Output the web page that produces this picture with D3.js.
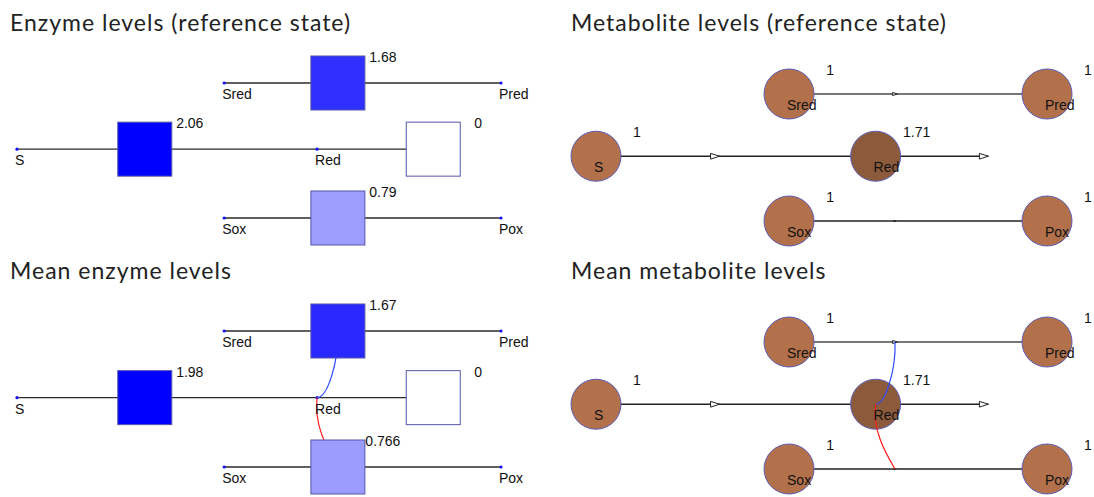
<!DOCTYPE html>
<html><head><meta charset="utf-8">
<script src="https://cdn.jsdelivr.net/npm/d3@7"></script>
<style>
html,body{margin:0;padding:0;background:#fff;}
svg{display:block;}
</style></head>
<body>
<svg id="chart" width="1094" height="497"></svg>
<script>
// ---------- data ----------
const panelTitles = ["Enzyme levels (reference state)", "Metabolite levels (reference state)",
                     "Mean enzyme levels", "Mean metabolite levels"];
const metabolites = ["S", "Sred", "Red", "Pred", "Sox", "Pox"];
const metaboliteRef  = [1, 1, 1.71, 1, 1, 1];
const metaboliteMean = [1, 1, 1.71, 1, 1, 1];
const reactions = ["R1", "R2", "R3", "R4"];
const reactionSubstrate = ["S", "Sred", "Red", "Sox"];
const reactionProduct   = ["Red", "Pred", null, "Pox"];
const enzymeRef  = [2.06, 1.68, 0, 0.79];
const enzymeMean = [1.98, 1.67, 0, 0.766];
const enzymeRefLabels  = ["2.06", "1.68", "0", "0.79"];
const enzymeMeanLabels = ["1.98", "1.67", "0", "0.766"];
const fluxes = [1, 0.4, 1, 0.05];
const regulationFrom  = ["R2", "Red"];
const regulationTo    = ["Red", "R4"];
const regulationSign  = ["+", "-"];

// ---------- layout (abstract network coordinates) ----------
const nodePos = {S:[0,0.49], Sred:[0.428,0], Red:[0.62,0.49], Pred:[1,0], Sox:[0.428,1], Pox:[1,1],
                 R1:[0.264,0.49], R2:[0.663,0], R3:[0.86,0.49], R4:[0.663,1]};

const svg = d3.select("#chart");
const titleFont = "Lato, 'Open Sans', sans-serif";
const labelFont = "'Liberation Sans', Arial, sans-serif";

const panels = [
  {kind:"enzyme", title:panelTitles[0], tx:10, ty:31, xr:[17,501], yr:[83,218], values:enzymeRef, labels:enzymeRefLabels, reg:false},
  {kind:"metab",  title:panelTitles[1], tx:571, ty:31, xr:[596,1047], yr:[94,221], values:metaboliteRef, reg:false},
  {kind:"enzyme", title:panelTitles[2], tx:10, ty:279, xr:[17,501], yr:[331,467], values:enzymeMean, labels:enzymeMeanLabels, reg:true},
  {kind:"metab",  title:panelTitles[3], tx:571, ty:279, xr:[596,1047], yr:[342,469], values:metaboliteMean, reg:true}
];

function regPath(p0, p1, sign){
  const dx = p1[0]-p0[0], dy = p1[1]-p0[1];
  const path = d3.path();
  path.moveTo(p0[0], p0[1]);
  if (sign === "+") {
    path.bezierCurveTo(p0[0]+1, p0[1]+0.45*dy, p1[0]-0.5*dx, p1[1], p1[0], p1[1]);
  } else {
    path.bezierCurveTo(p0[0]-3, p0[1]+0.38*dy, p1[0]-0.6*dx, p1[1]-0.3*dy, p1[0], p1[1]);
  }
  return path.toString();
}

panels.forEach(P => {
  const g = svg.append("g");
  const x = d3.scaleLinear().domain([0,1]).range(P.xr);
  const y = d3.scaleLinear().domain([0,1]).range(P.yr);
  const pos = k => [x(nodePos[k][0]), y(nodePos[k][1])];

  g.append("text").attr("x", P.tx).attr("y", P.ty)
    .attr("font-family", titleFont).attr("font-size", 23).attr("font-weight", 400)
    .attr("letter-spacing", "1px").attr("fill", "#222")
    .text(P.title);

  const rx = reactions.map((r,i) => ({r, i, s:reactionSubstrate[i], p:reactionProduct[i]}));

  if (P.kind === "enzyme") {
    rx.forEach(d => {
      const a = pos(d.s), b = d.p ? pos(d.p) : pos(d.r);
      g.append("line").attr("x1", a[0]).attr("y1", a[1]).attr("x2", b[0]).attr("y2", b[1])
        .attr("stroke", "#2b2b2b").attr("stroke-width", 1.4);
    });
    g.selectAll("circle.dot").data(metabolites).join("circle")
      .attr("cx", d => pos(d)[0]).attr("cy", d => pos(d)[1]).attr("r", 1.6).attr("fill", "#1010ff");
    if (P.reg) regulationFrom.forEach((f,i) => {
      g.append("path").attr("d", regPath(pos(f), pos(regulationTo[i]), regulationSign[i]))
        .attr("fill", "none").attr("stroke", regulationSign[i] === "+" ? "#2a4cff" : "#ff1a1a").attr("stroke-width", 1.2);
    });
    const color = d3.scaleLinear().domain([0, d3.max(P.values)]).range(["#ffffff", "#0000ff"]);
    const half = 27;
    rx.forEach(d => {
      const c = pos(d.r);
      g.append("rect").attr("x", c[0]-half).attr("y", c[1]-half).attr("width", 2*half).attr("height", 2*half)
        .attr("fill", color(P.values[d.i])).attr("stroke", "#5656a8").attr("stroke-width", 1);
      g.append("text").attr("x", c[0]+45).attr("y", c[1]-21).attr("text-anchor", "middle")
        .attr("font-family", labelFont).attr("font-size", 14).attr("fill", "#111")
        .text(P.labels[d.i]);
    });
    metabolites.forEach(m => {
      const c = pos(m);
      g.append("text").attr("x", c[0]-2).attr("y", c[1]+16)
        .attr("font-family", labelFont).attr("font-size", 14).attr("fill", "#111").text(m);
    });
  } else {
    const arrowLen = d3.scaleLinear().domain([0,1]).range([2,9]);
    rx.forEach(d => {
      const a = pos(d.s), r = pos(d.r);
      const L = arrowLen(fluxes[d.i]);
      const b = d.p ? pos(d.p) : [r[0]+L/2, r[1]];
      g.append("line").attr("x1", a[0]).attr("y1", a[1]).attr("x2", b[0]).attr("y2", b[1])
        .attr("stroke", d.i === 1 ? "#4a4a4a" : "#222").attr("stroke-width", 1.3);
      const h = L*0.32;
      g.append("path")
        .attr("d", `M${r[0]-L/2},${r[1]-h}L${r[0]+L/2},${r[1]}L${r[0]-L/2},${r[1]+h}Z`)
        .attr("fill", "#fff").attr("stroke", "#222").attr("stroke-width", 1);
    });
    const ext = d3.extent(P.values);
    const fill = d3.scaleLinear().domain(ext).range(["#b2714b", "#8c5b3b"]);
    metabolites.forEach((m,i) => {
      const c = pos(m);
      g.append("circle").attr("cx", c[0]).attr("cy", c[1]).attr("r", 25)
        .attr("fill", fill(P.values[i])).attr("stroke", "#5c5cb4").attr("stroke-width", 1);
    });
    if (P.reg) regulationFrom.forEach((f,i) => {
      g.append("path").attr("d", regPath(pos(f), pos(regulationTo[i]), regulationSign[i]))
        .attr("fill", "none").attr("stroke", regulationSign[i] === "+" ? "#2a4cff" : "#ff1a1a").attr("stroke-width", 1.2);
    });
    metabolites.forEach((m,i) => {
      const c = pos(m);
      g.append("text").attr("x", c[0]-2).attr("y", c[1]+16)
        .attr("font-family", labelFont).attr("font-size", 14).attr("fill", "#111").text(m);
      g.append("text").attr("x", c[0]+41).attr("y", c[1]-19).attr("text-anchor", "middle")
        .attr("font-family", labelFont).attr("font-size", 14).attr("fill", "#111")
        .text(d3.format("~r")(P.values[i]));
    });
  }
});
</script>
</body></html>
